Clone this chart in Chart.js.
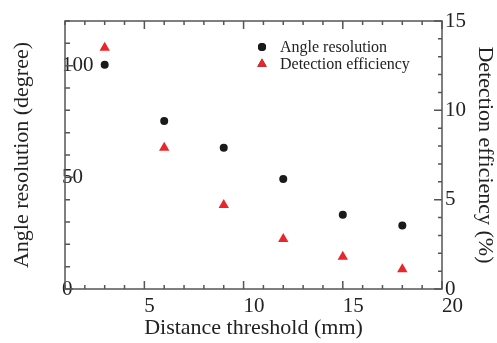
<!DOCTYPE html>
<html>
<head>
<meta charset="utf-8">
<script src="https://cdn.jsdelivr.net/npm/chart.js@4/dist/chart.umd.min.js"></script>
<style>
  html, body { margin: 0; padding: 0; background: #fff; }
  #wrap { width: 497px; height: 343px; }
</style>
</head>
<body>
<div id="wrap"><canvas id="chart" width="497" height="343"></canvas></div>
<script>
// values
const distances = [3, 6, 9, 12, 15, 18];           // mm
const angleRes = [100.4, 75.2, 63.2, 49.2, 33.3, 28.4]; // degree
const detEff = [13.5, 7.9, 4.7, 2.8, 1.8, 1.1];    // %

const xLabels = [5, 10, 15, 20];
const yLabels = [0, 50, 100];
const y1Labels = [0, 5, 10, 15];

const FONT = 'Liberation Serif';
const TXT = '#222';
const AXIS = '#555';

// frame + inward ticks, like the original plot
const frameTicks = {
    id: 'frameTicks',
    afterDraw(chart) {
        const { ctx, chartArea: a, scales } = chart;
        ctx.save();
        ctx.strokeStyle = AXIS;
        ctx.lineWidth = 1.5;
        ctx.strokeRect(a.left, a.top, a.right - a.left, a.bottom - a.top);
        ctx.beginPath();
        scales.x.ticks.forEach(t => {
            const px = scales.x.getPixelForValue(t.value);
            const len = t.value % 5 === 0 ? 8 : 4;
            ctx.moveTo(px, a.bottom); ctx.lineTo(px, a.bottom - len);
            ctx.moveTo(px, a.top); ctx.lineTo(px, a.top + len);
        });
        scales.y.ticks.forEach(t => {
            const py = scales.y.getPixelForValue(t.value);
            const len = t.value % 50 === 0 ? 8 : 5;
            ctx.moveTo(a.left, py); ctx.lineTo(a.left + len, py);
        });
        scales.y1.ticks.forEach(t => {
            const py = scales.y1.getPixelForValue(t.value);
            const len = t.value % 5 === 0 ? 8 : 4;
            ctx.moveTo(a.right, py); ctx.lineTo(a.right - len, py);
        });
        ctx.stroke();
        ctx.restore();
    }
};

// legend drawn inside the plot area
const innerLegend = {
    id: 'innerLegend',
    afterDraw(chart) {
        const { ctx } = chart;
        const x = 262, y0 = 47, dy = 17;
        ctx.save();
        chart.data.datasets.forEach((ds, i) => {
            const y = y0 + i * dy;
            Chart.helpers.drawPoint(ctx, {
                pointStyle: ds.pointStyle,
                radius: ds.pointStyle === 'triangle' ? 5.5 : 4,
                borderWidth: 0
            }, x, y);
            ctx.fillStyle = ds.backgroundColor;
            ctx.fill();
            ctx.fillStyle = TXT;
            ctx.font = '16px "' + FONT + '"';
            ctx.textBaseline = 'middle';
            ctx.textAlign = 'left';
            ctx.fillText(ds.label, x + 18, y + 1);
        });
        ctx.restore();
    }
};

new Chart(document.getElementById('chart'), {
    type: 'scatter',
    data: {
        datasets: [{
            label: 'Angle resolution',
            data: distances.map((d, i) => ({ x: d, y: angleRes[i] })),
            yAxisID: 'y',
            pointStyle: 'circle',
            pointRadius: 4,
            backgroundColor: '#1a1a1a',
            borderWidth: 0
        }, {
            label: 'Detection efficiency',
            data: distances.map((d, i) => ({ x: d, y: detEff[i] })),
            yAxisID: 'y1',
            pointStyle: 'triangle',
            pointRadius: 6,
            backgroundColor: '#e8262b',
            borderWidth: 0
        }]
    },
    options: {
        responsive: false,
        animation: false,
        layout: { padding: { top: 21, left: 0, right: 0, bottom: 0 } },
        plugins: { legend: { display: false }, tooltip: { enabled: false } },
        scales: {
            x: {
                type: 'linear',
                min: 1, max: 20,
                grid: { display: false, drawTicks: false },
                border: { display: false },
                ticks: {
                    stepSize: 1,
                    autoSkip: false,
                    maxRotation: 0,
                    minRotation: 0,
                    align: 'start',
                    padding: 5,
                    color: TXT,
                    font: { family: FONT, size: 21 },
                    callback: v => xLabels.includes(v) ? String(v) : ''
                },
                title: {
                    display: true,
                    text: 'Distance threshold (mm)',
                    color: TXT,
                    font: { family: FONT, size: 22 },
                    padding: { top: 0, bottom: 2 }
                },
                afterFit: s => { s.height = 54; }
            },
            y: {
                position: 'left',
                min: 0, max: 120,
                grid: { display: false, drawTicks: false },
                border: { display: false },
                ticks: {
                    stepSize: 10,
                    autoSkip: false,
                    mirror: true,
                    padding: -3,
                    color: TXT,
                    font: { family: FONT, size: 21 },
                    callback: v => yLabels.includes(v) ? String(v) : ''
                },
                title: {
                    display: true,
                    text: 'Angle resolution (degree)',
                    color: TXT,
                    font: { family: FONT, size: 22 },
                    padding: { top: 9, bottom: 0 }
                },
                afterFit: s => { s.width = 65; }
            },
            y1: {
                position: 'right',
                min: 0, max: 15,
                grid: { display: false, drawTicks: false },
                border: { display: false },
                ticks: {
                    stepSize: 1,
                    autoSkip: false,
                    padding: 3,
                    color: TXT,
                    font: { family: FONT, size: 21 },
                    callback: v => y1Labels.includes(v) ? String(v) : ''
                },
                title: {
                    display: true,
                    text: 'Detection efficiency (%)',
                    color: TXT,
                    font: { family: FONT, size: 22 },
                    padding: { top: -1, bottom: 0 }
                },
                afterFit: s => { s.width = 55; }
            }
        }
    },
    plugins: [frameTicks, innerLegend]
});
</script>
</body>
</html>
